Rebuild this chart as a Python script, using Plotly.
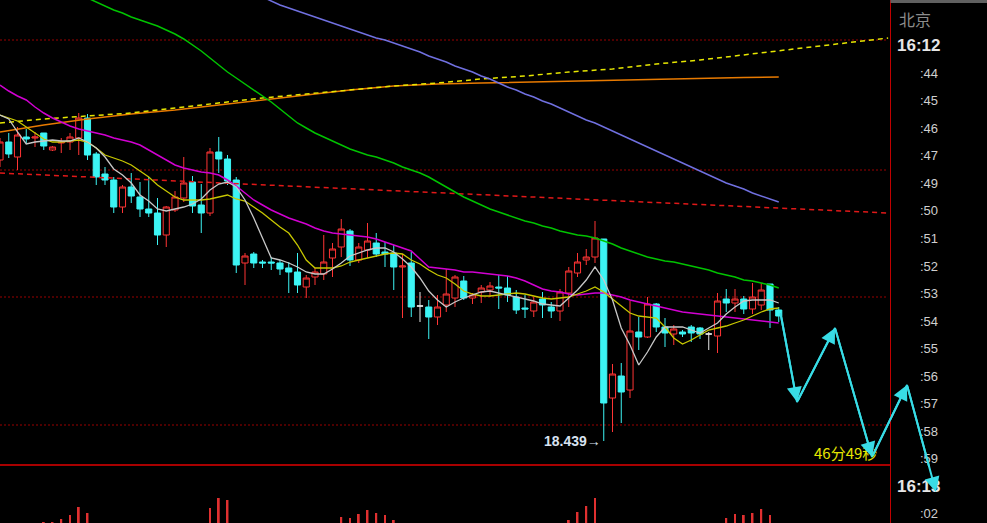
import plotly.graph_objects as go

# ---------------- data ----------------
idx = list(range(90))

open_ = [18.720, 18.738, 18.723, 18.743, 18.742, 18.747, 18.730, 18.737, 18.738, 18.742,
         18.762, 18.726, 18.706, 18.700, 18.673, 18.693, 18.683, 18.671, 18.667, 18.645,
         18.670, 18.682, 18.698, 18.675, 18.667, 18.728, 18.721, 18.700, 18.617, 18.626,
         18.618, 18.618, 18.617, 18.612, 18.608, 18.593, 18.603, 18.606, 18.622, 18.633,
         18.649, 18.620, 18.630, 18.637, 18.628, 18.627, 18.613, 18.617, 18.574, 18.573,
         18.563, 18.575, 18.582, 18.599, 18.582, 18.588, 18.590, 18.593, 18.592, 18.583,
         18.572, 18.569, 18.581, 18.573, 18.569, 18.587, 18.607, 18.620, 18.623, 18.641,
         18.482, 18.504, 18.490, 18.548, 18.543, 18.576, 18.553, 18.546, 18.548, 18.553,
         18.552, 18.546, 18.544, 18.581, 18.577, 18.581, 18.571, 18.575, 18.596, 18.570]
high = [18.742, 18.747, 18.753, 18.751, 18.748, 18.747, 18.734, 18.742, 18.747, 18.767,
        18.766, 18.728, 18.713, 18.703, 18.695, 18.707, 18.698, 18.703, 18.682, 18.674,
        18.689, 18.723, 18.704, 18.696, 18.732, 18.743, 18.725, 18.703, 18.627, 18.628,
        18.620, 18.623, 18.620, 18.618, 18.627, 18.605, 18.612, 18.645, 18.637, 18.661,
        18.651, 18.637, 18.657, 18.647, 18.638, 18.635, 18.626, 18.628, 18.588, 18.580,
        18.585, 18.611, 18.605, 18.604, 18.587, 18.595, 18.598, 18.605, 18.604, 18.590,
        18.585, 18.583, 18.588, 18.578, 18.591, 18.613, 18.627, 18.631, 18.659, 18.641,
        18.516, 18.517, 18.579, 18.563, 18.583, 18.577, 18.562, 18.555, 18.550, 18.555,
        18.553, 18.548, 18.587, 18.591, 18.591, 18.584, 18.597, 18.597, 18.596, 18.573]
low = [18.713, 18.722, 18.710, 18.737, 18.733, 18.730, 18.729, 18.727, 18.730, 18.725,
       18.720, 18.695, 18.695, 18.667, 18.667, 18.677, 18.663, 18.663, 18.635, 18.633,
       18.668, 18.678, 18.667, 18.647, 18.664, 18.707, 18.695, 18.607, 18.595, 18.612,
       18.612, 18.610, 18.605, 18.587, 18.587, 18.582, 18.595, 18.600, 18.603, 18.623,
       18.614, 18.617, 18.622, 18.623, 18.613, 18.590, 18.562, 18.563, 18.558, 18.541,
       18.555, 18.568, 18.573, 18.580, 18.576, 18.577, 18.583, 18.571, 18.578, 18.566,
       18.562, 18.563, 18.562, 18.562, 18.559, 18.573, 18.603, 18.615, 18.617, 18.439,
       18.448, 18.457, 18.482, 18.530, 18.542, 18.548, 18.533, 18.535, 18.543, 18.538,
       18.541, 18.530, 18.527, 18.568, 18.568, 18.566, 18.566, 18.570, 18.552, 18.558]
close = [18.738, 18.726, 18.745, 18.741, 18.743, 18.734, 18.733, 18.738, 18.743, 18.762,
         18.725, 18.703, 18.700, 18.673, 18.693, 18.684, 18.671, 18.667, 18.645, 18.673,
         18.683, 18.697, 18.674, 18.667, 18.728, 18.721, 18.699, 18.615, 18.624, 18.617,
         18.617, 18.617, 18.611, 18.608, 18.595, 18.602, 18.608, 18.618, 18.631, 18.651,
         18.620, 18.633, 18.639, 18.626, 18.626, 18.613, 18.614, 18.573, 18.574, 18.563,
         18.573, 18.586, 18.603, 18.582, 18.585, 18.592, 18.594, 18.592, 18.585, 18.570,
         18.571, 18.578, 18.575, 18.569, 18.588, 18.609, 18.618, 18.623, 18.642, 18.477,
         18.506, 18.488, 18.549, 18.543, 18.576, 18.553, 18.547, 18.551, 18.546, 18.547,
         18.546, 18.546, 18.579, 18.577, 18.581, 18.571, 18.583, 18.590, 18.570, 18.564]

ma_white = [18.765, 18.761, 18.748, 18.736, 18.738, 18.739, 18.740, 18.739, 18.739, 18.742,
            18.738, 18.732, 18.723, 18.711, 18.705, 18.697, 18.685, 18.679, 18.671, 18.669,
            18.671, 18.673, 18.676, 18.681, 18.690, 18.696, 18.698, 18.693, 18.680, 18.662,
            18.642, 18.622, 18.620, 18.617, 18.613, 18.608, 18.606, 18.606, 18.611, 18.617,
            18.624, 18.627, 18.630, 18.632, 18.632, 18.628, 18.621, 18.613, 18.602, 18.589,
            18.580, 18.573, 18.578, 18.582, 18.585, 18.588, 18.589, 18.587, 18.585, 18.583,
            18.581, 18.579, 18.576, 18.575, 18.574, 18.582, 18.590, 18.600, 18.613, 18.600,
            18.580, 18.552, 18.535, 18.515, 18.528, 18.543, 18.553, 18.553, 18.553, 18.550,
            18.547, 18.552, 18.557, 18.566, 18.573, 18.579, 18.580, 18.580, 18.580, 18.577]
ma_yellow = [18.765, 18.762, 18.759, 18.753, 18.747, 18.741, 18.738, 18.738, 18.739, 18.740,
             18.738, 18.732, 18.725, 18.722, 18.719, 18.715, 18.709, 18.703, 18.695, 18.689,
             18.683, 18.680, 18.680, 18.680, 18.681, 18.683, 18.685, 18.681, 18.679, 18.673,
             18.667, 18.660, 18.653, 18.647, 18.635, 18.620, 18.612, 18.612, 18.612, 18.614,
             18.618, 18.620, 18.622, 18.624, 18.626, 18.627, 18.626, 18.620, 18.616, 18.610,
             18.605, 18.602, 18.596, 18.589, 18.586, 18.584, 18.584, 18.585, 18.586, 18.587,
             18.586, 18.584, 18.582, 18.581, 18.582, 18.583, 18.586, 18.589, 18.593, 18.588,
             18.581, 18.574, 18.567, 18.564, 18.563, 18.562, 18.553, 18.542, 18.536, 18.540,
             18.545, 18.550, 18.552, 18.554, 18.557, 18.560, 18.564, 18.568, 18.571, 18.572]
ma_magenta = [18.795, 18.789, 18.784, 18.780, 18.773, 18.767, 18.762, 18.758, 18.754, 18.751,
              18.749, 18.747, 18.745, 18.742, 18.740, 18.738, 18.735, 18.730, 18.725, 18.720,
              18.715, 18.712, 18.710, 18.708, 18.707, 18.705, 18.700, 18.694, 18.687, 18.680,
              18.675, 18.670, 18.666, 18.662, 18.659, 18.656, 18.652, 18.649, 18.647, 18.646,
              18.645, 18.644, 18.643, 18.641, 18.638, 18.635, 18.632, 18.629, 18.621, 18.613,
              18.612, 18.611, 18.610, 18.608, 18.608, 18.607, 18.606, 18.605, 18.604, 18.602,
              18.599, 18.595, 18.591, 18.589, 18.588, 18.586, 18.585, 18.586, 18.587, 18.587,
              18.585, 18.583, 18.580, 18.578, 18.576, 18.574, 18.572, 18.570, 18.568, 18.567,
              18.566, 18.565, 18.564, 18.563, 18.562, 18.561, 18.560, 18.559, 18.558, 18.557]
green_idx = list(range(10, 90))
ma_green = [18.882, 18.878, 18.874, 18.870, 18.867, 18.863, 18.860, 18.857, 18.854, 18.850,
            18.846, 18.841, 18.835, 18.829, 18.822, 18.815, 18.808, 18.802, 18.796, 18.790,
            18.784, 18.778, 18.771, 18.764, 18.757, 18.752, 18.747, 18.743, 18.739, 18.735,
            18.731, 18.728, 18.725, 18.723, 18.720, 18.717, 18.713, 18.710, 18.707, 18.703,
            18.698, 18.693, 18.688, 18.683, 18.679, 18.675, 18.671, 18.668, 18.665, 18.662,
            18.659, 18.657, 18.654, 18.652, 18.649, 18.647, 18.645, 18.644, 18.642, 18.639,
            18.636, 18.632, 18.629, 18.626, 18.623, 18.621, 18.619, 18.618, 18.616, 18.614,
            18.612, 18.610, 18.607, 18.605, 18.603, 18.600, 18.599, 18.597, 18.595, 18.592]
blue_idx = list(range(30, 90))
ma_blue = [18.883, 18.879, 18.875, 18.872, 18.869, 18.866, 18.863, 18.860, 18.857, 18.854,
           18.851, 18.848, 18.845, 18.842, 18.840, 18.837, 18.834, 18.831, 18.828, 18.824,
           18.821, 18.818, 18.814, 18.811, 18.808, 18.804, 18.801, 18.797, 18.793, 18.790,
           18.786, 18.783, 18.779, 18.776, 18.772, 18.768, 18.764, 18.760, 18.757, 18.753,
           18.749, 18.745, 18.741, 18.737, 18.733, 18.729, 18.725, 18.721, 18.717, 18.713,
           18.709, 18.705, 18.701, 18.697, 18.694, 18.691, 18.687, 18.684, 18.681, 18.678]
orange_idx = [0, 5, 10, 15, 20, 25, 30, 35, 40, 45, 50, 55, 60, 65, 70, 75, 80, 85, 89]
ma_orange = [18.748, 18.755, 18.761, 18.766, 18.770, 18.775, 18.780, 18.785, 18.790, 18.794,
             18.796, 18.797, 18.798, 18.799, 18.800, 18.801, 18.802, 18.8025, 18.803]
ydash_idx = [0, 5, 10, 15, 20, 25, 30, 35, 40, 45, 50, 55, 60, 65, 70, 75, 80, 85, 90, 95, 101.5]
ydash_val = [18.757, 18.761, 18.764, 18.767, 18.772, 18.777, 18.782, 18.786, 18.790, 18.794,
             18.797, 18.801, 18.804, 18.808, 18.811, 18.816, 18.820, 18.825, 18.830, 18.835, 18.842]
rdash_idx = [0, 101.5]
rdash_val = [18.707, 18.667]

grid_prices = [18.840, 18.710, 18.583, 18.455]

vol_idx = [5, 6, 7, 8, 9, 10, 24, 25, 26, 39, 40, 41, 42, 43, 44, 45, 65, 66, 67, 68, 83, 84, 85, 86, 87, 88]
vol_val = [2020, 2020, 2080, 2160, 2320, 2200, 2300, 2500, 2460, 2120, 2100, 2180, 2260, 2200, 2160, 2060,
           2060, 2220, 2340, 2500, 2100, 2180, 2160, 2200, 2280, 2160]

zz_x = [89.2, 91.09, 95.43, 99.66, 103.66, 106.97]
zz_y = [18.567, 18.478, 18.552, 18.423, 18.495, 18.388]

time_labels = ["16:12", ":44", ":45", ":46", ":47", ":49", ":50", ":51", ":52", ":53", ":54",
               ":55", ":56", ":57", ":58", ":59", "16:13", ":02"]
time_prices = [18.835, 18.807, 18.780, 18.752, 18.725, 18.697, 18.670, 18.642, 18.614, 18.587,
               18.559, 18.532, 18.504, 18.477, 18.449, 18.422, 18.394, 18.367]

low_label = "18.439→"
timer_label = "46分49秒"
city_label = "北京"

# ---------------- style ----------------
RED = "#ff3434"
CYAN = "#3cf4f4"
FONT = "Liberation Sans, Arial, sans-serif"
W, H = 987, 523
PX_PER_BAR = 8.75
Y_TOP, Y_BOT = 18.880, 18.357
PANEL_X = 890.5 / W

fig = go.Figure()

# candles (non doji)
nd = [i for i in idx if open_[i] != close[i]]
dj = [i for i in idx if open_[i] == close[i]]
fig.add_trace(go.Candlestick(
    x=nd, open=[open_[i] for i in nd], high=[high[i] for i in nd],
    low=[low[i] for i in nd], close=[close[i] for i in nd],
    increasing=dict(line=dict(color=RED, width=1), fillcolor="#000000"),
    decreasing=dict(line=dict(color=CYAN, width=1), fillcolor=CYAN),
    whiskerwidth=0, hoverinfo="skip", showlegend=False))
fig.add_trace(go.Candlestick(
    x=dj, open=[open_[i] for i in dj], high=[high[i] for i in dj],
    low=[low[i] for i in dj], close=[close[i] for i in dj],
    increasing=dict(line=dict(color="#e8e8e8", width=1), fillcolor="#e8e8e8"),
    decreasing=dict(line=dict(color="#e8e8e8", width=1), fillcolor="#e8e8e8"),
    whiskerwidth=0, hoverinfo="skip", showlegend=False))

def line(x, y, color, width=1.3, dash=None):
    fig.add_trace(go.Scatter(x=x, y=y, mode="lines", hoverinfo="skip", showlegend=False,
                             line=dict(color=color, width=width, dash=dash)))

line(rdash_idx, rdash_val, "#e01818", 1.5, "5px,4px")
line(orange_idx, ma_orange, "#e87a00", 1.5)
line(ydash_idx, ydash_val, "#e6e600", 1.5, "5px,4px")
line(blue_idx, ma_blue, "#7070e0", 1.5)
line(green_idx, ma_green, "#00c400", 1.5)
line(idx, ma_magenta, "#d200d2", 1.5)
line(idx, ma_yellow, "#c8c800", 1.3)
line(idx, ma_white, "#c8c8c8", 1.3)

# zigzag
line(zz_x, zz_y, "#38dce6", 2)

# volume
fig.add_trace(go.Bar(x=vol_idx, y=vol_val, width=0.22, marker=dict(color="#e03030", line=dict(width=0)),
                     yaxis="y2", hoverinfo="skip", showlegend=False))

shapes = []
for p in grid_prices:
    shapes.append(dict(type="line", xref="paper", yref="y", x0=0, x1=888 / W, y0=p, y1=p,
                       line=dict(color="#9a0000", width=1, dash="2px,2px"), layer="below"))
shapes.append(dict(type="line", xref="paper", yref="y", x0=0, x1=PANEL_X, y0=18.415, y1=18.415,
                   line=dict(color="#a80000", width=2)))
shapes.append(dict(type="line", xref="paper", yref="paper", x0=PANEL_X, x1=PANEL_X, y0=0, y1=1,
                   line=dict(color="#c00000", width=1)))
shapes.append(dict(type="rect", xref="paper", yref="paper", x0=PANEL_X, x1=1, y0=1 - 3 / H, y1=1,
                   fillcolor="#606060", line=dict(width=0)))

ann = []
ann.append(dict(x=897 / W, y=18.861, xref="paper", yref="y", text=city_label, showarrow=False,
                xanchor="left", font=dict(family="Noto Sans CJK SC", size=16, color="#8c8c8c")))
for t, p in zip(time_labels, time_prices):
    big = len(t) > 3
    ann.append(dict(x=(942 if big else 940) / W, y=p, xref="paper", yref="y",
                    text=f"<b>{t}</b>" if big else t, showarrow=False, xanchor="right",
                    font=dict(family=FONT, size=17 if big else 13, color="#e6e6e6" if big else "#cfcfcf")))
ann.append(dict(x=69, y=18.439, xref="x", yref="y", text=f"<b>{low_label}</b>", showarrow=False,
                xanchor="right", xshift=-1, font=dict(family=FONT, size=14, color="#d8e2f0")))
ann.append(dict(x=100.4, y=18.428, xref="x", yref="y", text=timer_label, showarrow=False,
                xanchor="right", font=dict(family="Noto Sans CJK SC", size=15, color="#e6e600")))
for k in range(len(zz_x) - 1):
    ann.append(dict(x=zz_x[k + 1], y=zz_y[k + 1], ax=zz_x[k], ay=zz_y[k], xref="x", yref="y",
                    axref="x", ayref="y", text="", showarrow=True, arrowhead=2, arrowsize=1.5,
                    arrowwidth=2, arrowcolor="#38dce6", standoff=0))

fig.update_layout(
    width=W, height=H, margin=dict(l=0, r=0, t=0, b=0),
    paper_bgcolor="#000000", plot_bgcolor="#000000",
    showlegend=False, boxgap=0.3, boxgroupgap=0,
    xaxis=dict(domain=[0, 1], range=[0, W / PX_PER_BAR], visible=False, showgrid=False,
               zeroline=False, rangeslider=dict(visible=False), fixedrange=True),
    yaxis=dict(domain=[0, 1], range=[Y_BOT, Y_TOP], visible=False, showgrid=False, zeroline=False),
    yaxis2=dict(domain=[0, 56 / H], range=[2000, 3120], visible=False, showgrid=False,
                zeroline=False, anchor="x"),
    shapes=shapes, annotations=ann,
)

fig.write_html("out.html", config={"displayModeBar": False},
               post_script="document.body.style.margin='0';document.body.style.background='#000';")
